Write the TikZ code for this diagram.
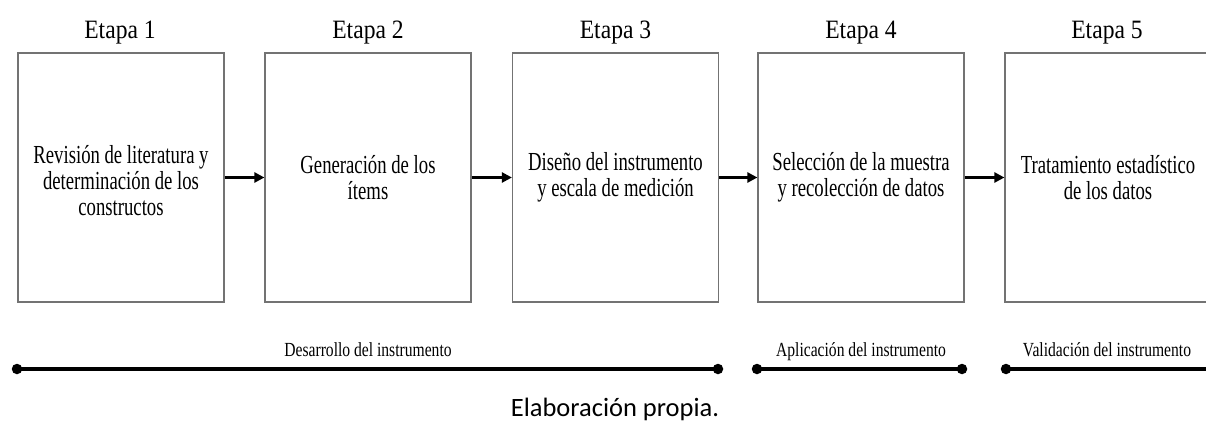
\documentclass[tikz,border=0pt]{standalone}
\usepackage{fontspec}
\usetikzlibrary{arrows.meta}
\newfontfamily\tnrtitle[FakeStretch=0.89]{Liberation Serif}
\newfontfamily\tnrbox[FakeStretch=0.72]{Liberation Serif}
\newfontfamily\tnrlabel[FakeStretch=0.78]{Liberation Serif}
\newfontfamily\calfont{Carlito}
\definecolor{boxgray}{RGB}{115,115,115}
\tikzset{
  stagebox/.style={draw=boxgray, line width=1.2pt, minimum width=206pt, minimum height=249pt, inner sep=0pt, align=center, font=\tnrbox\fontsize{26}{26.3}\selectfont},
  stagetitle/.style={anchor=base, inner sep=0pt, font=\tnrtitle\fontsize{26.5}{30}\selectfont},
  phaselabel/.style={anchor=base, inner sep=0pt, font=\tnrlabel\fontsize{20}{24}\selectfont},
  flow/.style={line width=2.3pt, -{Triangle[length=10pt,width=10pt]}},
  phaseline/.style={line width=3.6pt},
  dotend/.style={circle, fill=black, minimum size=10.5pt, inner sep=0pt}
}
\begin{document}
\begin{tikzpicture}[x=1pt,y=-1pt]
\path[use as bounding box] (0,0) rectangle (1206,423);
\clip (0,0) rectangle (1206,423);
% boxes
\node[stagebox] (b1) at (121,177.5) {\rule{0pt}{24pt}Revisión de literatura y\\determinación de los\\constructos};
\node[stagebox] (b2) at (368,177.5) {Generación de los\\ítems};
\node[stagebox] (b3) at (615.5,177.5) {Diseño del instrumento\\y escala de medición};
\node[stagebox] (b4) at (861,177.5) {Selección de la muestra\\y recolección de datos};
\node[stagebox] (b5) at (1108,177.5) {Tratamiento estadístico\\de los datos};
% titles
\node[stagetitle] (t1) at (120,38) {Etapa 1};
\node[stagetitle] (t2) at (368,38) {Etapa 2};
\node[stagetitle] (t3) at (615.5,38) {Etapa 3};
\node[stagetitle] (t4) at (861,38) {Etapa 4};
\node[stagetitle] (t5) at (1107,38) {Etapa 5};
% arrows
\draw[flow] (b1.east) -- (b2.west);
\draw[flow] (b2.east) -- (b3.west);
\draw[flow] (b3.east) -- (b4.west);
\draw[flow] (b4.east) -- (b5.west);
% phase lines
\node[dotend] (p1a) at (17,369) {};
\node[dotend] (p1b) at (718,369) {};
\node[dotend] (p2a) at (757,369) {};
\node[dotend] (p2b) at (962,369) {};
\node[dotend] (p3a) at (1006,369) {};
\coordinate (p3b) at (1230,369);
\draw[phaseline] (p1a.center) -- (p1b.center);
\draw[phaseline] (p2a.center) -- (p2b.center);
\draw[phaseline] (p3a.center) -- (p3b);
\node[phaselabel] (l1) at (368,356) {Desarrollo del instrumento};
\node[phaselabel] (l2) at (861,356) {Aplicación del instrumento};
\node[phaselabel] (l3) at (1107,356) {Validación del instrumento};
% caption
\node[anchor=base, inner sep=0pt, font=\calfont\fontsize{26.5}{30}\selectfont] (cap) at (615,416.5) {Elaboración propia.};
\end{tikzpicture}
\end{document}
